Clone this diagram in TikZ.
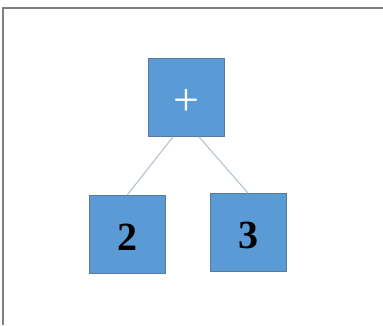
\documentclass[tikz,border=0pt]{standalone}
\usepackage{fontspec}
\setmainfont{Liberation Serif}
\definecolor{boxfill}{HTML}{5B9BD5}
\definecolor{boxline}{HTML}{5A7A9A}
\definecolor{edgecol}{HTML}{B0BFCC}
\begin{document}
\begin{tikzpicture}[x=1pt,y=-1pt,
  tbox/.style={draw=boxline,fill=boxfill,line width=0.8pt,minimum width=76pt,minimum height=78pt,inner sep=0pt},
  digit/.style={font=\fontsize{40}{40}\selectfont\bfseries,yshift=-3pt},
  edge/.style={draw=edgecol,line width=1pt}]
\useasboundingbox (0,0) rectangle (383,325);
\fill[white] (0,0) rectangle (383,325);
\draw[gray,line width=1.2pt] (3,325) -- (3,8) -- (383,8);
\node[tbox,label={[text=white,font=\fontsize{46}{46}\selectfont,yshift=-5pt]center:+}] (plus) at (186,97.5) {};
\node[tbox,label={[digit]center:2}] (two) at (127.5,234) {};
\node[tbox,label={[digit]center:3}] (three) at (248,232.5) {};
\draw[edge] ([xshift=-13pt]plus.south) -- (two.north);
\draw[edge] ([xshift=13pt]plus.south) -- (three.north);
\end{tikzpicture}
\end{document}
